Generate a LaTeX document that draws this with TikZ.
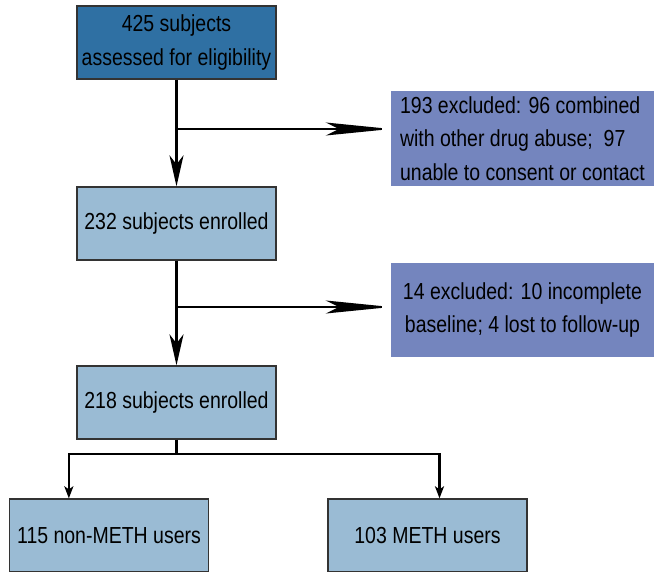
\documentclass[tikz,border=0pt]{standalone}
\usepackage{fontspec}
\setmainfont{Liberation Sans}[FakeStretch=0.84]
\usepackage{xcolor}
\usetikzlibrary{arrows.meta}
\definecolor{cTop}{HTML}{2F70A3}
\definecolor{cBox}{HTML}{9ABBD4}
\definecolor{cEx}{HTML}{7485BE}
\tikzset{
  boxtxt/.style={font=\fontsize{23.2}{33.5}\selectfont, text=black, inner sep=0pt},
  Topbox/.style={boxtxt, rectangle, fill=cTop, draw=black!80, line width=1.3pt, minimum width=199pt, minimum height=73pt, align=center},
  Stepbox/.style={boxtxt, rectangle, fill=cBox, draw=black!80, line width=1.3pt, minimum width=199pt, minimum height=73pt, align=center},
  Exbox/.style={boxtxt, rectangle, fill=cEx, draw=none, minimum width=263pt, minimum height=95pt},
  mainArr/.style={line width=2.6pt, -{Stealth[length=31pt, width=14pt, inset=9pt]}},
  sideArr/.style={line width=1.8pt, -{Stealth[length=65pt, width=13pt, inset=13pt]}},
  splitLn/.style={line width=2.2pt},
  splitArr/.style={line width=2.2pt, -{Stealth[length=12pt, width=9pt, inset=3pt]}},
}

\begin{document}
\begin{tikzpicture}[x=1pt, y=-1pt]
\useasboundingbox (0,0) rectangle (654,571);
\node[Topbox] (assess) at (176.5,42.5) {425 subjects\\assessed for eligibility};
\node[Stepbox] (enrolA) at (176.5,223.5) {232 subjects enrolled};
\node[Stepbox] (enrolB) at (176.5,402.5) {218 subjects enrolled};
\node[Exbox, align=left] (exA) at (522.5,138.5) {193 excluded: 96 combined\\with other drug abuse;\ \ 97\\unable to consent or contact};
\node[Exbox, minimum height=94pt, align=center] (exB) at (522.5,310) {14 excluded: 10 incomplete\\baseline; 4 lost to follow-up};
\node[Stepbox] (nonmeth) at (109,535.5) {115 non-METH users};
\node[Stepbox] (meth) at (427.5,535.5) {103 METH users};
\coordinate (brA) at (176.5,129);
\coordinate (brB) at (176.5,307);
\coordinate (split) at (176.5,454);
\draw[mainArr] (assess) -- (enrolA);
\draw[sideArr] (brA) -- (brA -| exA.west);
\draw[mainArr] (enrolA) -- (enrolB);
\draw[sideArr] (brB) -- (brB -| exB.west);
\draw[splitLn] (enrolB) -- (split);
\draw[splitArr] (split) -| ([xshift=60pt]nonmeth.north west);
\draw[splitArr] (split) -| ([xshift=12pt]meth.north);
\end{tikzpicture}
\end{document}
